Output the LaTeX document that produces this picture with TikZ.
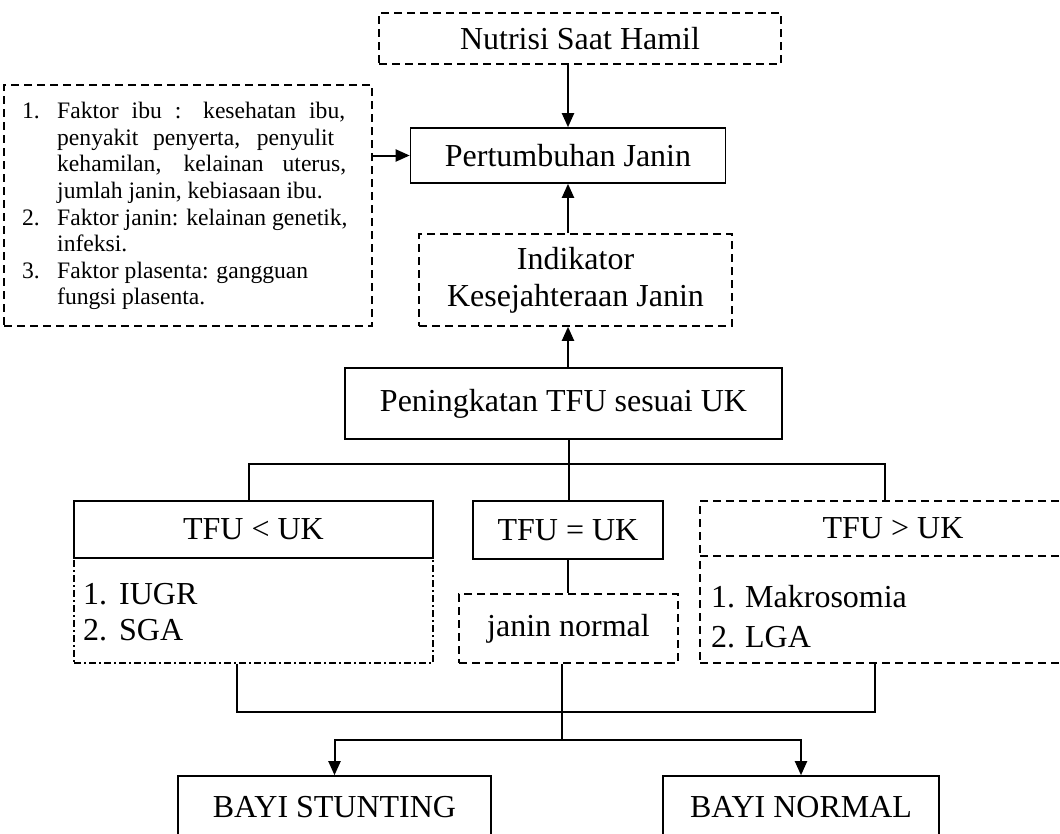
\documentclass[tikz,border=0pt]{standalone}
\usepackage{fontspec}
\setmainfont{Liberation Serif}
\usetikzlibrary{arrows.meta,calc}
\begin{document}
\begin{tikzpicture}[x=1pt,y=-1pt,
  bx/.style={draw, line width=1.6pt, inner sep=0pt, align=center, font=\fontsize{32}{37}\selectfont},
  solidbox/.style={bx},
  dashbox/.style={bx, dash pattern=on 8pt off 5pt},
  dotdashbox/.style={bx, dash pattern=on 7pt off 3pt on 2pt off 3pt},
  txt/.style={inner sep=0pt, font=\fontsize{32}{37}\selectfont},
  smalltxt/.style={inner sep=0pt, font=\fontsize{23.6}{26.6}\selectfont},
  conn/.style={line width=1.6pt},
  arr/.style={line width=2pt, -{Triangle[length=14pt,width=12pt]}}
]
\useasboundingbox (0,0) rectangle (1060,833);
\clip (0,0) rectangle (1060,833);

% boxes
\node[dashbox, minimum width=402pt, minimum height=51pt] (nutrisi) at (580,38.5) {Nutrisi Saat Hamil};
\node[solidbox, minimum width=315pt, minimum height=55pt] (pert) at (568,155.5) {Pertumbuhan Janin};
\node[dashbox, minimum width=368pt, minimum height=241pt] (faktor) at (188,205.5) {};
\node[smalltxt, anchor=west] (faktortxt) at (22,206.5) {%
  \begin{tabular}{@{}p{35pt}@{}l@{}}
  1. & \makebox[288pt][s]{Faktor ibu : kesehatan ibu,}\\
     & \makebox[277pt][s]{penyakit penyerta, penyulit}\\
     & \makebox[289pt][s]{kehamilan, kelainan uterus,}\\
     & jumlah janin, kebiasaan ibu.\\
  2. & Faktor janin: kelainan genetik,\\
     & infeksi.\\
  3. & Faktor plasenta: gangguan\\
     & fungsi plasenta.
  \end{tabular}};
\node[dashbox, minimum width=313pt, minimum height=92pt] (ind) at (575.5,280) {Indikator\\Kesejahteraan Janin};
\node[solidbox, minimum width=437pt, minimum height=71pt] (pen) at (563.5,403.5) {Peningkatan TFU sesuai UK};

\node[solidbox, minimum width=359pt, minimum height=57pt] (tfult) at (253.5,529.5) {TFU < UK};
\node[dotdashbox, minimum width=359pt, minimum height=105pt] (iugr) at (253.5,610.5) {};
\node[txt, anchor=west] (iugrtxt) at (83,615.5) {%
  \renewcommand\arraystretch{0.95}%
  \begin{tabular}{@{}p{36pt}@{}l@{}}
  1. & IUGR\\
  2. & SGA
  \end{tabular}};

\node[solidbox, minimum width=190pt, minimum height=58pt] (tfueq) at (568,530) {TFU = UK};
\node[dashbox, minimum width=219pt, minimum height=69pt] (janin) at (568.5,628.5) {janin normal};

\node[dashbox, minimum width=386pt, minimum height=55pt] (tfugt) at (893,528.5) {TFU > UK};
\node[dashbox, minimum width=386pt, minimum height=107pt] (makro) at (893,609.5) {};
\node[txt, anchor=west] (makrotxt) at (711,619.5) {%
  \renewcommand\arraystretch{1.08}%
  \begin{tabular}{@{}p{34pt}@{}l@{}}
  1. & Makrosomia\\
  2. & LGA
  \end{tabular}};

\node[solidbox, minimum width=313pt, minimum height=62pt] (stunt) at (334.5,807) {BAYI STUNTING};
\node[solidbox, minimum width=276pt, minimum height=62pt] (normal) at (801,807) {BAYI NORMAL};

% top arrows
\draw[arr] (nutrisi.south -| pert.north) -- (pert.north);
\draw[arr] (faktor.east |- pert.west) -- (pert.west);
\draw[arr] (ind.north -| pert.south) -- (pert.south);
\draw[arr] (pen.north -| pert.south) -- (ind.south -| pert.south);

% tree to TFU boxes
\coordinate (bl) at (249,464);
\coordinate (bc) at (569,464);
\coordinate (br) at (885,464);
\draw[conn] (bc |- pen.south) -- (bc |- tfueq.north);
\draw[conn] (bl |- tfult.north) -- (bl) -- (br) -- (br |- tfugt.north);
\draw[conn] (tfueq.south) -- (tfueq.south |- janin.north);

% tree to outcomes
\coordinate (ml) at (237,712);
\coordinate (mr) at (875,712);
\coordinate (mc) at (562,740);
\draw[conn] (ml |- iugr.south) -- (ml) -- (mr) -- (mr |- makro.south);
\draw[conn] (mc |- janin.south) -- (mc);
\draw[arr] (mc) -| (stunt.north);
\draw[arr] (mc) -| (normal.north);
\end{tikzpicture}
\end{document}
